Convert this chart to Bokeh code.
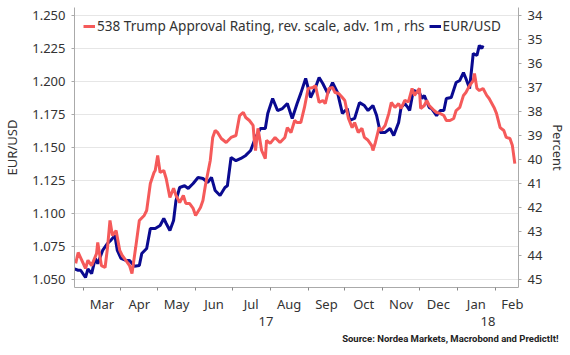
import pandas as pd
from bokeh.plotting import figure
from bokeh.models import (Range1d, LinearAxis, FixedTicker, Legend, LegendItem, Title,
                          PrintfTickFormatter)
from bokeh.embed import file_html
from bokeh.resources import INLINE

# ---------------- data ----------------
usd_dates = [
    "2017-02-22", "2017-02-25", "2017-02-27", "2017-03-03", "2017-03-05", "2017-03-08",
    "2017-03-11", "2017-03-13", "2017-03-17", "2017-03-21", "2017-03-24", "2017-03-27",
    "2017-03-29", "2017-04-01", "2017-04-05", "2017-04-08", "2017-04-12", "2017-04-16",
    "2017-04-18", "2017-04-22", "2017-04-25", "2017-04-29", "2017-05-03", "2017-05-06",
    "2017-05-08", "2017-05-11", "2017-05-14", "2017-05-16", "2017-05-19", "2017-05-23",
    "2017-05-26", "2017-05-30", "2017-06-03", "2017-06-07", "2017-06-11", "2017-06-14",
    "2017-06-17", "2017-06-21", "2017-06-25", "2017-06-27", "2017-06-30", "2017-07-04",
    "2017-07-08", "2017-07-12", "2017-07-16", "2017-07-20", "2017-07-24", "2017-07-28",
    "2017-07-30", "2017-08-03", "2017-08-07", "2017-08-11", "2017-08-15", "2017-08-19",
    "2017-08-23", "2017-08-26", "2017-08-30", "2017-09-03", "2017-09-07", "2017-09-10",
    "2017-09-13", "2017-09-17", "2017-09-21", "2017-09-25", "2017-09-29", "2017-10-03",
    "2017-10-05", "2017-10-09", "2017-10-13", "2017-10-17", "2017-10-20", "2017-10-24",
    "2017-10-27", "2017-10-30", "2017-11-03", "2017-11-07", "2017-11-10", "2017-11-14",
    "2017-11-16", "2017-11-19", "2017-11-21", "2017-11-23", "2017-11-26", "2017-12-01",
    "2017-12-03", "2017-12-05", "2017-12-09", "2017-12-11", "2017-12-15", "2017-12-18",
    "2017-12-21", "2017-12-23", "2017-12-27", "2017-12-31", "2018-01-03", "2018-01-06",
    "2018-01-08", "2018-01-11", "2018-01-14", "2018-01-17", "2018-01-19", "2018-01-21",
    "2018-01-22",
]
usd_values = [
    1.058, 1.057, 1.057, 1.0515, 1.058, 1.0545,
    1.066, 1.062, 1.072, 1.0773, 1.080, 1.0833,
    1.072, 1.066, 1.0644, 1.0644, 1.060, 1.0606,
    1.0697, 1.0735, 1.0886, 1.0886, 1.0909, 1.0962,
    1.0924, 1.0871, 1.0947, 1.110, 1.1197, 1.121,
    1.119, 1.1227, 1.1273, 1.1265, 1.1235, 1.1273,
    1.1174, 1.1136, 1.1197, 1.121, 1.1424, 1.140,
    1.1417, 1.144, 1.1477, 1.1576, 1.1644, 1.1644,
    1.1758, 1.1871, 1.178, 1.1795, 1.1833, 1.172,
    1.1833, 1.191, 1.2023, 1.1879, 1.1955, 1.203,
    1.1985, 1.191, 1.1992, 1.1917, 1.1758, 1.1795,
    1.1705, 1.172, 1.184, 1.1818, 1.178, 1.1818,
    1.1742, 1.1614, 1.1614, 1.1644, 1.1591, 1.169,
    1.1803, 1.1833, 1.181, 1.178, 1.1932, 1.1917,
    1.1871, 1.1894, 1.1803, 1.1795, 1.1742, 1.178,
    1.178, 1.1871, 1.1879, 1.1992, 1.2008, 1.2068,
    1.2023, 1.1947, 1.2212, 1.2197, 1.2273, 1.225,
    1.2273,
]

trump_dates = [
    "2017-02-23", "2017-02-25", "2017-02-28", "2017-03-03", "2017-03-05", "2017-03-08",
    "2017-03-12", "2017-03-13", "2017-03-16", "2017-03-19", "2017-03-21", "2017-03-23",
    "2017-03-25", "2017-03-28", "2017-03-31", "2017-04-02", "2017-04-05", "2017-04-08",
    "2017-04-10", "2017-04-13", "2017-04-16", "2017-04-20", "2017-04-22", "2017-04-25",
    "2017-04-28", "2017-04-29", "2017-05-01", "2017-05-03", "2017-05-06", "2017-05-08",
    "2017-05-11", "2017-05-14", "2017-05-16", "2017-05-19", "2017-05-22", "2017-05-24",
    "2017-05-27", "2017-05-30", "2017-06-01", "2017-06-05", "2017-06-07", "2017-06-09",
    "2017-06-13", "2017-06-15", "2017-06-17", "2017-06-19", "2017-06-22", "2017-06-26",
    "2017-06-30", "2017-07-04", "2017-07-07", "2017-07-10", "2017-07-12", "2017-07-15",
    "2017-07-18", "2017-07-19", "2017-07-20", "2017-07-22", "2017-07-25", "2017-07-28",
    "2017-07-29", "2017-08-01", "2017-08-05", "2017-08-09", "2017-08-13", "2017-08-15",
    "2017-08-18", "2017-08-21", "2017-08-23", "2017-08-26", "2017-08-29", "2017-09-01",
    "2017-09-05", "2017-09-07", "2017-09-10", "2017-09-13", "2017-09-15", "2017-09-18",
    "2017-09-21", "2017-09-23", "2017-09-26", "2017-09-29", "2017-10-01", "2017-10-04",
    "2017-10-07", "2017-10-09", "2017-10-12", "2017-10-15", "2017-10-17", "2017-10-20",
    "2017-10-23", "2017-10-24", "2017-10-26", "2017-10-29", "2017-10-31", "2017-11-03",
    "2017-11-06", "2017-11-08", "2017-11-11", "2017-11-14", "2017-11-16", "2017-11-19",
    "2017-11-22", "2017-11-25", "2017-11-27", "2017-12-01", "2017-12-02", "2017-12-05",
    "2017-12-07", "2017-12-09", "2017-12-13", "2017-12-15", "2017-12-18", "2017-12-21",
    "2017-12-23", "2017-12-26", "2017-12-29", "2017-12-31", "2018-01-03", "2018-01-06",
    "2018-01-08", "2018-01-11", "2018-01-14", "2018-01-15", "2018-01-17", "2018-01-19",
    "2018-01-22", "2018-01-25", "2018-01-27", "2018-01-31", "2018-02-02", "2018-02-05",
    "2018-02-08", "2018-02-10", "2018-02-13", "2018-02-15", "2018-02-17",
]
trump_values = [
    44.33, 43.875, 44.2, 44.54, 44.2, 44.42,
    43.92, 43.46, 44.42, 44.5, 43.67, 42.54,
    43.17, 42.96, 43.79, 44.0, 44.2, 44.42,
    44.75, 43.67, 42.54, 42.33, 42.125, 41.0,
    40.54, 40.46, 39.83, 40.54, 40.46, 40.8,
    41.58, 41.2, 41.5, 41.79, 41.5, 41.83,
    41.83, 42.04, 42.33, 42.0, 41.71, 41.08,
    40.04, 39.08, 38.79, 38.875, 39.125, 39.29,
    39.08, 39.0, 38.17, 38.04, 38.25, 38.375,
    38.58, 39.2, 39.625, 38.7, 39.625, 39.96,
    39.2, 39.33, 39.08, 39.29, 39.08, 38.67,
    38.875, 38.375, 38.46, 38.46, 37.83, 37.04,
    37.0, 36.92, 37.625, 37.54, 37.67, 37.04,
    37.0, 37.21, 37.25, 37.42, 37.54, 38.29,
    38.67, 38.46, 38.875, 38.7, 39.08, 39.2,
    39.42, 39.625, 39.29, 38.67, 38.79, 38.58,
    38.08, 37.625, 37.83, 37.67, 37.875, 37.54,
    37.6, 37.04, 37.33, 37.04, 37.875, 37.75,
    37.54, 37.75, 37.96, 38.04, 38.08, 38.17,
    38.375, 38.375, 38.29, 37.96, 37.83, 37.33,
    37.21, 36.92, 36.71, 36.42, 37.04, 37.125,
    37.04, 37.33, 37.46, 37.83, 38.08, 38.67,
    38.79, 39.08, 39.125, 39.42, 40.17,
]

month_labels = ["Mar", "Apr", "May", "Jun", "Jul", "Aug", "Sep", "Oct", "Nov", "Dec", "Jan", "Feb"]
year_labels = ["17", "18"]
left_ticks = [1.050, 1.075, 1.100, 1.125, 1.150, 1.175, 1.200, 1.225, 1.250]
right_ticks = [34, 35, 36, 37, 38, 39, 40, 41, 42, 43, 44, 45]

trump_label = "538 Trump Approval Rating, rev. scale, adv. 1m , rhs"
usd_label = "EUR/USD"
source_text = "Source: Nordea Markets, Macrobond and PredictIt!"

# ---------------- styling ----------------
FONT = "Noto Sans"
TXT = "#333333"
AXC = "#aaaaaa"
RED = "#f55a5a"
BLUE = "#0a0a90"

x_start = pd.Timestamp("2017-02-22")
x_end = pd.Timestamp("2018-02-20")

def ms(ts):
    return ts.value / 1e6

p = figure(width=570, height=355, x_axis_type="datetime", output_backend="svg",
           toolbar_location=None,
           x_range=Range1d(ms(x_start), ms(x_end)),
           y_range=Range1d(1.04394, 1.25606),
           min_border_left=69, min_border_right=52, min_border_top=7, min_border_bottom=68)
p.outline_line_color = None
p.background_fill_color = "white"
p.border_fill_color = "white"

p.extra_y_ranges = {"pct": Range1d(45 + 8 / 24, 34 - 8 / 24)}

# lines
b = p.line(pd.to_datetime(usd_dates), usd_values, color=BLUE, line_width=3)
r = p.line(pd.to_datetime(trump_dates), trump_values, color=RED, line_width=3, y_range_name="pct")

# x axis: month boundary ticks (minor) and month labels centred between them (major)
starts = list(pd.date_range("2017-03-01", "2018-03-01", freq="MS"))
mids = [ms(starts[i]) + (ms(starts[i + 1]) - ms(starts[i])) / 2 for i in range(len(month_labels))]
xa = p.xaxis[0]
xa.ticker = FixedTicker(ticks=mids, minor_ticks=[ms(s) for s in starts[:-1]])
xa.major_label_overrides = {m: lab for m, lab in zip(mids, month_labels)}
xa.major_tick_out = 0
xa.major_tick_in = 0
xa.minor_tick_out = 3
xa.minor_tick_in = 0
xa.minor_tick_line_color = "#888888"
xa.axis_line_color = AXC
xa.major_label_standoff = 4
xa.major_label_text_font = FONT
xa.major_label_text_font_size = "13px"
xa.major_label_text_color = TXT

# year axis
y2018 = ms(pd.Timestamp("2018-01-01"))
year_pos = [(ms(x_start) + y2018) / 2, (y2018 + ms(x_end)) / 2]
ya2 = LinearAxis(ticker=FixedTicker(ticks=year_pos, minor_ticks=[]))
ya2.major_label_overrides = {v: lab for v, lab in zip(year_pos, year_labels)}
ya2.axis_line_color = None
ya2.major_tick_line_color = None
ya2.minor_tick_line_color = None
ya2.major_label_standoff = -5
ya2.major_label_text_font = FONT
ya2.major_label_text_font_size = "13px"
ya2.major_label_text_color = TXT
p.add_layout(ya2, "below")

# left axis
la = p.yaxis[0]
la.ticker = FixedTicker(ticks=left_ticks, minor_ticks=[])
la.formatter = PrintfTickFormatter(format="%.3f")
la.axis_label = usd_label
la.axis_label_text_font = FONT
la.axis_label_text_font_size = "13px"
la.axis_label_text_font_style = "normal"
la.axis_label_text_color = TXT
la.axis_label_standoff = 8
la.major_label_text_font = FONT
la.major_label_text_font_size = "13px"
la.major_label_text_color = TXT
la.major_label_standoff = 6
la.major_tick_out = 3
la.major_tick_in = 0
la.major_tick_line_color = AXC
la.axis_line_color = AXC

# right axis
ra = LinearAxis(y_range_name="pct", ticker=FixedTicker(ticks=right_ticks, minor_ticks=[]))
ra.axis_label = "Percent"
ra.axis_label_text_font = FONT
ra.axis_label_text_font_size = "13px"
ra.axis_label_text_font_style = "normal"
ra.axis_label_text_color = TXT
ra.axis_label_standoff = 4
ra.major_label_text_font = FONT
ra.major_label_text_font_size = "13px"
ra.major_label_text_color = TXT
ra.major_label_standoff = 6
ra.major_tick_out = 3
ra.major_tick_in = 0
ra.major_tick_line_color = AXC
ra.axis_line_color = AXC
p.add_layout(ra, "right")

# grid
p.xgrid.visible = False
p.ygrid.grid_line_color = "#e6e6e6"
p.ygrid.grid_line_width = 1

# legend
legend = Legend(items=[LegendItem(label=trump_label, renderers=[r]),
                       LegendItem(label=usd_label, renderers=[b])],
                orientation="horizontal", location="top_left",
                margin=9, padding=0, spacing=4, label_standoff=2,
                glyph_width=12, glyph_height=16, label_height=16,
                label_text_font=FONT, label_text_font_size="13.6px",
                label_text_color=TXT, border_line_color=None,
                background_fill_alpha=0)
p.add_layout(legend, "center")

# source note
src = Title(text=source_text, align="right", offset=-40, standoff=4, text_font="Roboto",
            text_font_size="9.5px", text_font_style="bold", text_color="#222222")
p.add_layout(src, "below")

open("out.html", "w").write(file_html(p, INLINE))
